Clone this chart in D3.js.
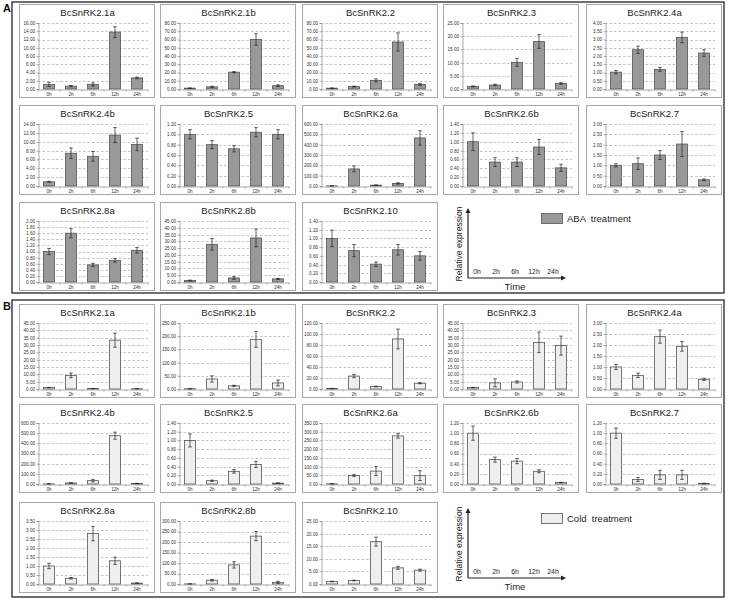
<!DOCTYPE html>
<html><head><meta charset="utf-8">
<script src="https://cdn.jsdelivr.net/npm/d3@7/dist/d3.min.js"></script>
<style>body{margin:0;background:#fff}svg{display:block}text{font-family:"Liberation Sans",Arial,sans-serif}</style>
</head><body><svg id="c" width="730" height="600"></svg>
<script>
const times = ["0h","2h","6h","12h","24h"];
const genes = ["BcSnRK2.1a","BcSnRK2.1b","BcSnRK2.2","BcSnRK2.3","BcSnRK2.4a","BcSnRK2.4b","BcSnRK2.5","BcSnRK2.6a","BcSnRK2.6b","BcSnRK2.7","BcSnRK2.8a","BcSnRK2.8b","BcSnRK2.10"];

const abaMax  = [16, 80, 80, 25, 4, 14, 1.2, 600, 1.4, 3, 2.0, 45, 1.4];
const abaStep = [2, 10, 10, 5, 0.5, 2, 0.2, 100, 0.2, 0.5, 0.2, 5, 0.2];
const abaValues = [
  [1.1, 0.7, 1.1, 13.8, 2.7],
  [1.0, 2.6, 20.4, 60, 4.0],
  [1.0, 2.9, 10.5, 57, 5.5],
  [1.0, 1.5, 10.1, 18.0, 2.1],
  [1.02, 2.38, 1.19, 3.13, 2.18],
  [0.95, 7.4, 6.7, 11.5, 9.4],
  [1.0, 0.8, 0.72, 1.04, 1.0],
  [1, 165, 8, 25, 465],
  [1.0, 0.54, 0.54, 0.88, 0.41],
  [1.0, 1.08, 1.5, 2.03, 0.3],
  [1.0, 1.6, 0.56, 0.71, 1.04],
  [1.1, 27.8, 3.0, 32.5, 2.3],
  [1.0, 0.72, 0.41, 0.74, 0.6]
];
const abaErrors = [
  [0.5, 0.15, 0.4, 1.3, 0.2],
  [0.2, 0.7, 0.7, 7, 1.0],
  [0.2, 0.6, 1.8, 11, 1.2],
  [0.15, 0.3, 1.5, 2.6, 0.3],
  [0.1, 0.22, 0.12, 0.32, 0.2],
  [0.1, 1.2, 1.1, 1.7, 1.4],
  [0.09, 0.08, 0.06, 0.09, 0.09],
  [0.5, 28, 3, 6, 70],
  [0.2, 0.1, 0.1, 0.17, 0.08],
  [0.08, 0.28, 0.22, 0.6, 0.04],
  [0.1, 0.15, 0.05, 0.06, 0.09],
  [0.3, 4.3, 1.0, 6.5, 0.4],
  [0.19, 0.14, 0.05, 0.12, 0.1]
];

const coldMax  = [45, 250, 120, 45, 3, 600, 1.4, 350, 1.2, 1.2, 3.5, 300, 25];
const coldStep = [5, 50, 20, 5, 0.5, 100, 0.2, 50, 0.2, 0.2, 0.5, 50, 5];
const coldValues = [
  [1.0, 9.3, 0.3, 33.3, 0.2],
  [1.0, 38, 12, 188, 23],
  [1.0, 23.5, 4.4, 91, 10.5],
  [1.0, 4.2, 4.8, 31.8, 29.6],
  [1.0, 0.62, 2.38, 1.94, 0.44],
  [1, 10, 33, 475, 5],
  [1.0, 0.075, 0.29, 0.45, 0.02],
  [1, 49, 74, 276, 48],
  [1.0, 0.48, 0.45, 0.25, 0.03],
  [1.0, 0.09, 0.18, 0.18, 0.01],
  [1.0, 0.32, 2.8, 1.29, 0.05],
  [0.5, 18, 91, 228, 8],
  [1.0, 1.4, 16.8, 6.4, 5.5]
];
const coldErrors = [
  [0.1, 1.6, 0.05, 4.8, 0.05],
  [0.3, 12, 2, 30, 11],
  [0.2, 3, 0.6, 18, 1],
  [0.15, 2.7, 0.7, 7, 6.5],
  [0.12, 0.1, 0.3, 0.22, 0.05],
  [0.3, 3, 12, 35, 2],
  [0.15, 0.015, 0.04, 0.07, 0.005],
  [0.3, 5, 26, 13, 28],
  [0.14, 0.05, 0.05, 0.03, 0.005],
  [0.1, 0.04, 0.09, 0.09, 0.005],
  [0.15, 0.04, 0.4, 0.2, 0.01],
  [0.1, 4, 15, 22, 5],
  [0.1, 0.1, 1.8, 0.6, 0.4]
];

const sections = [
  {label:"A", legend:"ABA  treatment", fill:"#999999", stroke:"#555555",
   values:abaValues, errors:abaErrors, max:abaMax, step:abaStep,
   box:[12,2,712,291], rows:[[4,97],[105,194],[202,290]]},
  {label:"B", legend:"Cold  treatment", fill:"#efefef", stroke:"#555555",
   values:coldValues, errors:coldErrors, max:coldMax, step:coldStep,
   box:[12,300,712,297], rows:[[304,397],[404,492],[502,592]]}
];
const colX = [19, 160, 302, 443, 586];
const panelW = 135;

const svg = d3.select("#c");
const fmt = d3.format(".2f");

function drawPanel(g, x0, y0, y1, name, vals, errs, ymax, ystep, fill, stroke){
  g.append("rect").attr("x",x0+0.5).attr("y",y0+0.5).attr("width",panelW).attr("height",y1-y0)
    .attr("fill","#fff").attr("stroke","#a8a8a8").attr("stroke-width",1);
  g.append("text").attr("x",x0+panelW/2+1).attr("y",y0+12).attr("text-anchor","middle")
    .attr("font-size",9.5).attr("fill","#222").text(name);
  const L = x0+19, R = x0+129, T = y0+19, B = y1-8;
  const y = d3.scaleLinear().domain([0,ymax]).range([B,T]);
  const x = d3.scaleBand().domain(times).range([L,R]).paddingInner(0.5).paddingOuter(0.25);
  const ticks = d3.range(0, ymax + ystep/2, ystep);
  g.append("g").selectAll("line").data(ticks.slice(1)).join("line")
    .attr("x1",L).attr("x2",R).attr("y1",d=>Math.round(y(d))+0.5).attr("y2",d=>Math.round(y(d))+0.5)
    .attr("stroke","#9a9a9a").attr("stroke-width",0.6).attr("stroke-dasharray","2.5,2");
  const ax = g.append("g").attr("transform",`translate(${L+0.5},0)`)
    .call(d3.axisLeft(y).tickValues(ticks).tickFormat(fmt).tickSize(2).tickPadding(1.5));
  ax.select(".domain").attr("stroke","#888").attr("stroke-width",0.7);
  ax.selectAll(".tick line").attr("stroke","#888").attr("stroke-width",0.6);
  ax.selectAll(".tick text").attr("font-size",4.6).attr("fill","#333").attr("font-family","Liberation Sans, Arial, sans-serif");
  const bx = g.append("g").attr("transform",`translate(0,${B+0.5})`)
    .call(d3.axisBottom(x).tickSize(0).tickPadding(3.5));
  bx.select(".domain").attr("stroke","#888").attr("stroke-width",0.7);
  bx.selectAll(".tick text").attr("font-size",4.6).attr("fill","#333").attr("font-family","Liberation Sans, Arial, sans-serif");
  g.append("g").selectAll("line").data(d3.range(times.length+1)).join("line")
    .attr("x1",i=>L + i*(R-L)/times.length).attr("x2",i=>L + i*(R-L)/times.length)
    .attr("y1",B+0.5).attr("y2",B+2.5).attr("stroke","#888").attr("stroke-width",0.6);
  g.append("g").selectAll("rect").data(vals).join("rect")
    .attr("x",(d,i)=>x(times[i])).attr("width",x.bandwidth())
    .attr("y",d=>y(d)).attr("height",d=>B-y(d))
    .attr("fill",fill).attr("stroke",stroke).attr("stroke-width",0.8);
  const eg = g.append("g").attr("stroke","#222").attr("stroke-width",0.7);
  vals.forEach((v,i)=>{
    const cx = x(times[i]) + x.bandwidth()/2;
    const e = errs[i];
    const yt = y(v+e), yb = y(Math.max(0,v-e));
    eg.append("line").attr("x1",cx).attr("x2",cx).attr("y1",yt).attr("y2",yb);
    eg.append("line").attr("x1",cx-1.8).attr("x2",cx+1.8).attr("y1",yt).attr("y2",yt);
    eg.append("line").attr("x1",cx-1.8).attr("x2",cx+1.8).attr("y1",yb).attr("y2",yb);
  });
}

function drawLegend(g, top, text, fill, stroke){
  const ox = 468, oy = top + 76, yTop = top + 6, xRight = 566;
  g.append("line").attr("x1",ox).attr("x2",ox).attr("y1",oy).attr("y2",yTop+4).attr("stroke","#222").attr("stroke-width",1.2);
  g.append("line").attr("x1",ox).attr("x2",xRight-4).attr("y1",oy).attr("y2",oy).attr("stroke","#222").attr("stroke-width",1.2);
  g.append("path").attr("d",`M${ox-2.5},${yTop+5}L${ox},${yTop}L${ox+2.5},${yTop+5}Z`).attr("fill","#222");
  g.append("path").attr("d",`M${xRight-5},${oy-2.5}L${xRight},${oy}L${xRight-5},${oy+2.5}Z`).attr("fill","#222");
  g.append("text").attr("transform",`translate(${ox-6},${(oy+yTop)/2+1}) rotate(-90)`)
    .attr("text-anchor","middle").attr("font-size",8.6).attr("fill","#222").text("Relative expression");
  g.append("text").attr("x",515).attr("y",oy+12).attr("text-anchor","middle").attr("font-size",9.5).attr("fill","#222").text("Time");
  const px = d3.scalePoint().domain(times).range([477,553]);
  g.append("g").selectAll("text").data(times).join("text")
    .attr("x",d=>px(d)).attr("y",oy-4.5).attr("text-anchor","middle").attr("font-size",6.8).attr("fill","#222").text(d=>d);
  g.append("rect").attr("x",541.5).attr("y",top+11.5).attr("width",21).attr("height",10)
    .attr("fill",fill).attr("stroke",stroke).attr("stroke-width",0.8);
  g.append("text").attr("x",567).attr("y",top+20).attr("font-size",9.5).attr("fill","#222")
    .style("white-space","pre").text(text);
}

sections.forEach(s=>{
  const g = svg.append("g");
  g.append("rect").attr("x",s.box[0]).attr("y",s.box[1]).attr("width",s.box[2]).attr("height",s.box[3])
    .attr("fill","none").attr("stroke","#333").attr("stroke-width",1.4);
  g.append("text").attr("x",3).attr("y",s.box[1]+10).attr("font-size",11).attr("font-weight","bold").attr("fill","#111").text(s.label);
  genes.forEach((name,i)=>{
    const r = Math.floor(i/5), c = i%5;
    drawPanel(g, colX[c], s.rows[r][0], s.rows[r][1], name, s.values[i], s.errors[i], s.max[i], s.step[i], s.fill, s.stroke);
  });
  drawLegend(g, s.rows[2][0], s.legend, s.fill, s.stroke);
});
</script></body></html>
